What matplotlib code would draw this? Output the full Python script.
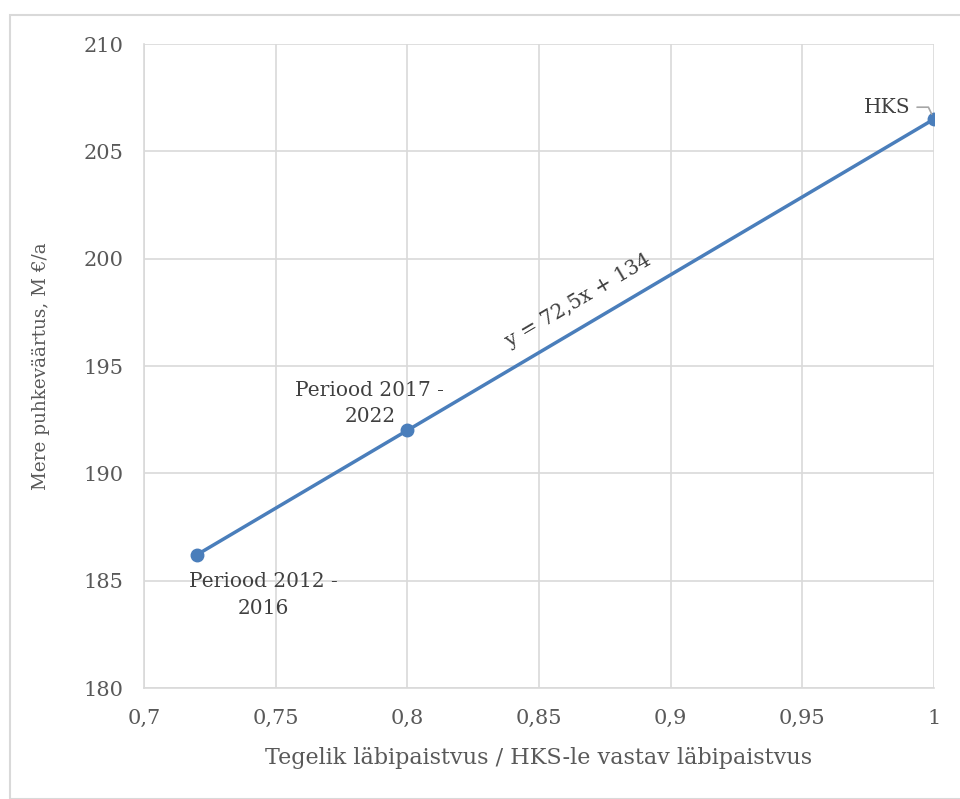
import matplotlib
matplotlib.use('Agg')
import matplotlib.pyplot as plt
from matplotlib.patches import Rectangle
from matplotlib.ticker import FuncFormatter

# data
x_vals = [0.72, 0.8, 1.0]
y_vals = [186.2, 192.0, 206.5]
point_labels = ['Periood 2012 -\n2016', 'Periood 2017 -\n2022', 'HKS']
trend_slope = 72.5
trend_intercept = 134
x_ticks = [0.7, 0.75, 0.8, 0.85, 0.9, 0.95, 1.0]
y_ticks = [180, 185, 190, 195, 200, 205, 210]

plt.rcParams['font.family'] = ['DejaVu Serif']
text_color = '#595959'
label_color = '#404040'
line_color = '#4a7ebb'
grid_color = '#d9d9d9'

fig = plt.figure(figsize=(9.6, 7.99), dpi=100)
fig.patches.append(Rectangle((10 / 960, 0), 1.0, 1 - 15 / 799, transform=fig.transFigure,
                             fill=False, edgecolor=grid_color, linewidth=1.5))
ax = fig.add_axes([144 / 960, 1 - 688 / 799, 790 / 960, 644 / 799])

ax.plot(x_vals, y_vals, color=line_color, linewidth=2.5, marker='o', markersize=9, zorder=3)

ax.set_xlim(0.7, 1.0)
ax.set_ylim(180, 210)
ax.set_xticks(x_ticks)
ax.set_yticks(y_ticks)
ax.xaxis.set_major_formatter(FuncFormatter(lambda v, p: ('%g' % v).replace('.', ',')))
ax.grid(True, color=grid_color, linewidth=1.2)
ax.set_axisbelow(True)
for s in ['top', 'right']:
    ax.spines[s].set_visible(False)
for s in ['left', 'bottom']:
    ax.spines[s].set_color(grid_color)
    ax.spines[s].set_linewidth(1.2)
ax.tick_params(length=0, labelsize=15, colors=text_color)
ax.tick_params(axis='y', pad=15)
ax.tick_params(axis='x', pad=15)

ax.set_xlabel('Tegelik läbipaistvus / HKS-le vastav läbipaistvus', fontsize=16, color=text_color, labelpad=14)
ax.set_ylabel('Mere puhkeväärtus, M €/a', fontsize=13.2, color=text_color, labelpad=24)

# point labels
ax.annotate(point_labels[0], (x_vals[0], y_vals[0]), xytext=(48, -29), textcoords='offset points',
            ha='center', va='center', fontsize=14.5, color=label_color, linespacing=1.5)
ax.annotate(point_labels[1], (x_vals[1], y_vals[1]), xytext=(-27, 19.5), textcoords='offset points',
            ha='center', va='center', fontsize=14.5, color=label_color, linespacing=1.5)
ax.annotate(point_labels[2], (x_vals[2], y_vals[2]), xytext=(-34, 8.6), textcoords='offset points',
            ha='center', va='center', fontsize=14.5, color=label_color,
            arrowprops=dict(arrowstyle='-', color='#a6a6a6', linewidth=1.2,
                            connectionstyle='angle,angleA=0,angleB=115,rad=0',
                            shrinkA=3, shrinkB=4))

# trendline equation
tx = 0.865
ax.text(tx, trend_slope * tx + trend_intercept + 1.35, 'y = 72,5x + 134',
        rotation=30.6, rotation_mode='anchor', ha='center', va='center',
        fontsize=14.5, color=label_color)

fig.savefig('out.png', dpi=100)
